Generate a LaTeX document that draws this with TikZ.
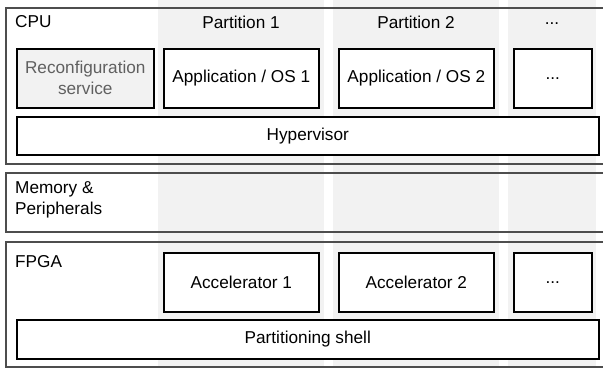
\documentclass[tikz,border=0pt]{standalone}
\usepackage{fontspec}
\setmainfont{Liberation Sans}
\definecolor{bandgrey}{HTML}{F2F2F2}
\definecolor{framegrey}{HTML}{4D4D4D}
\definecolor{softtext}{HTML}{606060}
\tikzset{
  layer/.style={draw=framegrey, line width=1.3pt},
  band/.style={fill=bandgrey, draw=none},
  unit/.style={draw=black, line width=1.6pt, fill=white, anchor=north west,
    inner sep=0pt, align=center},
  label/.style={inner sep=0pt, anchor=west, align=left},
  heading/.style={inner sep=0pt, anchor=center}
}
\begin{document}
\begin{tikzpicture}[x=1pt, y=-1pt, font=\fontsize{17.2}{21}\selectfont]
  \useasboundingbox (0,0) rectangle (603,368);
  \clip (0,0) rectangle (603,368);
  \fill[white] (0,0) rectangle (603,368);

  % partition columns
  \fill[band] (158,0) rectangle (324,368);
  \fill[band] (333,0) rectangle (499,368);
  \fill[band] (508,0) rectangle (596,368);

  % hardware layers
  \draw[layer] (6,8) rectangle (615,164);
  \draw[layer] (6,173) rectangle (615,232);
  \draw[layer] (6,242) rectangle (615,367);

  % layer and column titles
  \node[label] (cpu) at (15,22) {CPU};
  \node[label] (mem) at (15,200) {Memory \&\\Peripherals};
  \node[label] (fpga) at (15,262) {FPGA};
  \node[heading] (p1) at (241,22) {Partition 1};
  \node[heading] (p2) at (416,22) {Partition 2};
  \node[heading] (p3) at (552,24) {...};

  % CPU contents
  \node[unit, fill=bandgrey, text=softtext, minimum width=137pt, minimum height=59pt]
    (recon) at (16,48) {Reconfiguration\\service};
  \node[unit, minimum width=155pt, minimum height=59pt] (app1) at (163,48) {Application / OS 1};
  \node[unit, minimum width=155pt, minimum height=59pt] (app2) at (338,48) {Application / OS 2};
  \node[unit, minimum width=78pt, minimum height=59pt] (appn) at (513,48) {...};
  \node[unit, minimum width=582pt, minimum height=38pt] (hyp) at (16,116) {Hypervisor};

  % FPGA contents
  \node[unit, minimum width=155pt, minimum height=59pt] (acc1) at (163,252) {Accelerator 1};
  \node[unit, minimum width=155pt, minimum height=59pt] (acc2) at (338,252) {Accelerator 2};
  \node[unit, minimum width=78pt, minimum height=59pt] (accn) at (513,252) {...};
  \node[unit, minimum width=582pt, minimum height=39pt] (shell) at (16,319) {Partitioning shell};
\end{tikzpicture}
\end{document}
